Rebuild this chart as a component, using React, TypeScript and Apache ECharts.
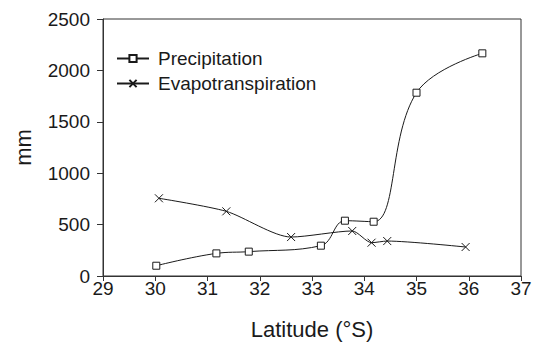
import React, { useEffect, useRef } from "react";
import * as echarts from "echarts";

const precipLat = [30.02, 31.17, 31.79, 33.17, 33.63, 34.18, 35.0, 36.26];
const precipMm = [100, 220, 237, 295, 538, 528, 1783, 2166];
const evapLat = [30.07, 31.36, 32.6, 33.77, 34.14, 34.44, 35.94];
const evapMm = [756, 629, 379, 438, 324, 340, 282];
const xTicks = { min: 29, max: 37, interval: 1 };
const yTicks = { min: 0, max: 2500, interval: 500 };

const FONT = "'Liberation Sans', Arial, Helvetica, sans-serif";
const INK = "#1a1a1a";

export default function App() {
  const ref = useRef<HTMLDivElement>(null);
  useEffect(() => {
    if (!ref.current) return;
    const chart = echarts.init(ref.current, undefined, { renderer: "svg" });
    const pairs = (xs: number[], ys: number[]) => xs.map((x, i) => [x, ys[i]]);
    chart.setOption({
      animation: false,
      backgroundColor: "#fff",
      textStyle: { fontFamily: FONT },
      grid: {
        left: 103,
        right: 15,
        top: 19,
        bottom: 67,
        outerBoundsMode: "none",
        containLabel: false,
        show: true,
        borderColor: "#333",
        borderWidth: 1,
        backgroundColor: "transparent",
      },
      legend: {
        orient: "vertical",
        left: 111,
        top: 44,
        itemWidth: 32,
        itemHeight: 9,
        itemGap: 6,
        selectedMode: false,
        textStyle: { color: INK, fontSize: 19, fontFamily: FONT, padding: [0, 0, 0, 4] },
        data: ["Precipitation", "Evapotranspiration"],
      },
      xAxis: {
        type: "value",
        min: xTicks.min,
        max: xTicks.max,
        interval: xTicks.interval,
        name: "Latitude (°S)",
        nameLocation: "middle",
        nameGap: 42,
        nameTextStyle: { color: INK, fontSize: 22, fontFamily: FONT },
        axisLine: { show: true, lineStyle: { color: "#333", width: 1 } },
        axisTick: { show: true, length: 5, inside: false, lineStyle: { color: "#333" } },
        axisLabel: { color: INK, fontSize: 19, margin: 3, fontFamily: FONT },
        splitLine: { show: false },
      },
      yAxis: {
        type: "value",
        min: yTicks.min,
        max: yTicks.max,
        interval: yTicks.interval,
        name: "mm",
        nameLocation: "middle",
        nameRotate: 90,
        nameGap: 69,
        nameTextStyle: { color: INK, fontSize: 22, fontFamily: FONT },
        axisLine: { show: true, lineStyle: { color: "#333", width: 1 } },
        axisTick: { show: true, length: 6, inside: false, lineStyle: { color: "#333" } },
        axisLabel: {
          color: INK,
          fontSize: 19,
          margin: 13,
          fontFamily: FONT,
          formatter: (v: number) => String(v),
        },
        splitLine: { show: false },
      },
      series: [
        {
          name: "Precipitation",
          type: "line",
          data: pairs(precipLat, precipMm),
          smooth: 0.4,
          symbol: "rect",
          symbolSize: 7,
          lineStyle: { color: INK, width: 1 },
          itemStyle: { color: "#fff", borderColor: INK, borderWidth: 1 },
          z: 3,
        },
        {
          name: "Evapotranspiration",
          type: "line",
          data: pairs(evapLat, evapMm),
          smooth: 0.25,
          symbol: "path://M0,0L10,10M10,0L0,10",
          symbolSize: 8,
          lineStyle: { color: INK, width: 1 },
          itemStyle: { color: "#fff", borderColor: INK, borderWidth: 1 },
          z: 2,
        },
      ],
    });
    return () => chart.dispose();
  }, []);
  return (
    <div
      ref={ref}
      style={{ position: "fixed", left: 0, top: 0, width: 536, height: 343, background: "#fff" }}
    />
  );
}
